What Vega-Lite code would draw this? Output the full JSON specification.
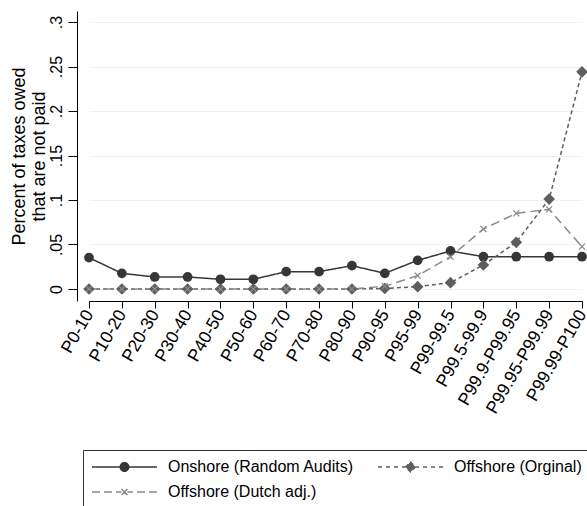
{
  "$schema": "https://vega.github.io/schema/vega-lite/v6.json",
  "autosize": "none",
  "width": 510,
  "height": 290,
  "padding": {"left": 77, "top": 11, "right": 0, "bottom": 205},
  "background": "white",
  "config": {
    "font": "Liberation Sans",
    "view": {"stroke": null}
  },
  "data": {
    "values": [
      {"cat": "P0-10", "series": "Onshore (Random Audits)", "v": 0.0352},
      {"cat": "P10-20", "series": "Onshore (Random Audits)", "v": 0.0176},
      {"cat": "P20-30", "series": "Onshore (Random Audits)", "v": 0.0135},
      {"cat": "P30-40", "series": "Onshore (Random Audits)", "v": 0.0135},
      {"cat": "P40-50", "series": "Onshore (Random Audits)", "v": 0.0109},
      {"cat": "P50-60", "series": "Onshore (Random Audits)", "v": 0.0109},
      {"cat": "P60-70", "series": "Onshore (Random Audits)", "v": 0.0195},
      {"cat": "P70-80", "series": "Onshore (Random Audits)", "v": 0.0195},
      {"cat": "P80-90", "series": "Onshore (Random Audits)", "v": 0.0262},
      {"cat": "P90-95", "series": "Onshore (Random Audits)", "v": 0.0176},
      {"cat": "P95-99", "series": "Onshore (Random Audits)", "v": 0.0322},
      {"cat": "P99-99.5", "series": "Onshore (Random Audits)", "v": 0.0427},
      {"cat": "P99.5-99.9", "series": "Onshore (Random Audits)", "v": 0.0363},
      {"cat": "P99.9-P99.95", "series": "Onshore (Random Audits)", "v": 0.0363},
      {"cat": "P99.95-P99.99", "series": "Onshore (Random Audits)", "v": 0.0363},
      {"cat": "P99.99-P100", "series": "Onshore (Random Audits)", "v": 0.0363},
      {"cat": "P0-10", "series": "Offshore (Orginal)", "v": 0},
      {"cat": "P10-20", "series": "Offshore (Orginal)", "v": 0},
      {"cat": "P20-30", "series": "Offshore (Orginal)", "v": 0},
      {"cat": "P30-40", "series": "Offshore (Orginal)", "v": 0},
      {"cat": "P40-50", "series": "Offshore (Orginal)", "v": 0},
      {"cat": "P50-60", "series": "Offshore (Orginal)", "v": 0},
      {"cat": "P60-70", "series": "Offshore (Orginal)", "v": 0},
      {"cat": "P70-80", "series": "Offshore (Orginal)", "v": 0},
      {"cat": "P80-90", "series": "Offshore (Orginal)", "v": 0},
      {"cat": "P90-95", "series": "Offshore (Orginal)", "v": 0.0005},
      {"cat": "P95-99", "series": "Offshore (Orginal)", "v": 0.0026},
      {"cat": "P99-99.5", "series": "Offshore (Orginal)", "v": 0.0071},
      {"cat": "P99.5-99.9", "series": "Offshore (Orginal)", "v": 0.027},
      {"cat": "P99.9-P99.95", "series": "Offshore (Orginal)", "v": 0.0524},
      {"cat": "P99.95-P99.99", "series": "Offshore (Orginal)", "v": 0.101},
      {"cat": "P99.99-P100", "series": "Offshore (Orginal)", "v": 0.244},
      {"cat": "P0-10", "series": "Offshore (Dutch adj.)", "v": 0},
      {"cat": "P10-20", "series": "Offshore (Dutch adj.)", "v": 0},
      {"cat": "P20-30", "series": "Offshore (Dutch adj.)", "v": 0},
      {"cat": "P30-40", "series": "Offshore (Dutch adj.)", "v": 0},
      {"cat": "P40-50", "series": "Offshore (Dutch adj.)", "v": 0},
      {"cat": "P50-60", "series": "Offshore (Dutch adj.)", "v": 0},
      {"cat": "P60-70", "series": "Offshore (Dutch adj.)", "v": 0},
      {"cat": "P70-80", "series": "Offshore (Dutch adj.)", "v": 0},
      {"cat": "P80-90", "series": "Offshore (Dutch adj.)", "v": 0},
      {"cat": "P90-95", "series": "Offshore (Dutch adj.)", "v": 0.003},
      {"cat": "P95-99", "series": "Offshore (Dutch adj.)", "v": 0.015},
      {"cat": "P99-99.5", "series": "Offshore (Dutch adj.)", "v": 0.0363},
      {"cat": "P99.5-99.9", "series": "Offshore (Dutch adj.)", "v": 0.0674},
      {"cat": "P99.9-P99.95", "series": "Offshore (Dutch adj.)", "v": 0.085},
      {"cat": "P99.95-P99.99", "series": "Offshore (Dutch adj.)", "v": 0.0895},
      {"cat": "P99.99-P100", "series": "Offshore (Dutch adj.)", "v": 0.0476}
    ]
  },
  "encoding": {
    "x": {
      "field": "cat", "type": "ordinal",
      "scale": {"type": "point", "padding": 0, "range": [12, 505],
        "domain": ["P0-10","P10-20","P20-30","P30-40","P40-50","P50-60","P60-70","P70-80","P80-90","P90-95","P95-99","P99-99.5","P99.5-99.9","P99.9-P99.95","P99.95-P99.99","P99.99-P100"]},
      "axis": {"title": null, "labelAngle": -60, "labelAlign": "right", "labelBaseline": "middle", "labelFontSize": 17.5, "labelColor": "black", "labelPadding": 3, "tickSize": 7, "tickColor": "black", "domainColor": "black", "grid": false, "labelOverlap": false, "labelBound": false}
    },
    "y": {
      "field": "v", "type": "quantitative",
      "scale": {"domain": [-0.0135, 0.3124], "nice": false, "zero": false},
      "axis": {"title": ["Percent of taxes owed", "that are not paid"], "titleFontSize": 18, "titleFontWeight": "normal", "titleColor": "black", "titlePadding": 0, "titleLineHeight": 20,
        "values": [0, 0.05, 0.1, 0.15, 0.2, 0.25, 0.3], "labelExpr": "datum.value == 0 ? '0' : replace(format(datum.value, '.2~f'), '0.', '.')",
        "labelAngle": -90, "labelAlign": "center", "labelBaseline": "bottom", "labelFontSize": 16, "labelColor": "black", "labelPadding": 4,
        "tickSize": 9, "tickColor": "black", "domainColor": "black", "grid": true, "gridColor": "#eaf2f3", "gridWidth": 1.2}
    },
    "color": {
      "field": "series", "type": "nominal",
      "scale": {"domain": ["Onshore (Random Audits)", "Offshore (Orginal)", "Offshore (Dutch adj.)"], "range": ["#363636", "#5e5e5e", "#8a8a8a"]},
      "legend": {
        "orient": "none", "legendX": 6, "legendY": 439, "title": " ", "titleOrient": "bottom", "titleFontSize": 10, "titlePadding": 0, "direction": "horizontal", "columns": 2,
        "strokeColor": "#333333", "padding": 9, "labelFont": "Liberation Sans", "labelFontSize": 16, "labelColor": "black", "labelLimit": 0,
        "symbolSize": 100, "symbolStrokeWidth": 1.5, "symbolOffset": 24.5, "labelOffset": 35.5, "columnPadding": 21, "rowPadding": 9,
        "symbolType": {"expr": "datum.value === 'Onshore (Random Audits)' ? 'M-6.5,0H6.5M0.85,0A0.85,0.85,0,1,1,-0.85,0A0.85,0.85,0,1,1,0.85,0Z' : datum.value === 'Offshore (Orginal)' ? 'M-6.5,0H-5.7M-4.9,0H-4.1M-3.3,0H-2.5M-1.7,0H-1M1,0H1.7M2.5,0H3.3M4.1,0H4.9M5.7,0H6.5M-1,0L0,-1L1,0L0,1Z' : 'M-6.5,0H-4.9M-4.1,0H-2.5M-1.7,0H-0.6M0.6,0H1.7M2.5,0H4.1M4.9,0H6.5M-0.6,-0.6L0.6,0.6M-0.6,0.6L0.6,-0.6'"}
      }
    }
  },
  "layer": [
    {
      "mark": {"type": "line", "strokeWidth": 1.5},
      "encoding": {
        "strokeDash": {"field": "series", "type": "nominal",
          "scale": {"domain": ["Onshore (Random Audits)", "Offshore (Orginal)", "Offshore (Dutch adj.)"], "range": [[1, 0], [4, 3], [9, 5]]},
          "legend": null}
      }
    },
    {
      "transform": [{"filter": "datum.series === 'Onshore (Random Audits)'"}],
      "mark": {"type": "point", "shape": "circle", "filled": true, "size": 95, "opacity": 1}
    },
    {
      "transform": [{"filter": "datum.series === 'Offshore (Orginal)'"}],
      "mark": {"type": "point", "shape": "diamond", "filled": true, "size": 135, "opacity": 1}
    },
    {
      "transform": [{"filter": "datum.series === 'Offshore (Dutch adj.)'"}],
      "mark": {"type": "point", "shape": "M-1,-1L1,1M-1,1L1,-1", "filled": false, "size": 36, "strokeWidth": 1.3, "opacity": 1}
    }
  ]
}
